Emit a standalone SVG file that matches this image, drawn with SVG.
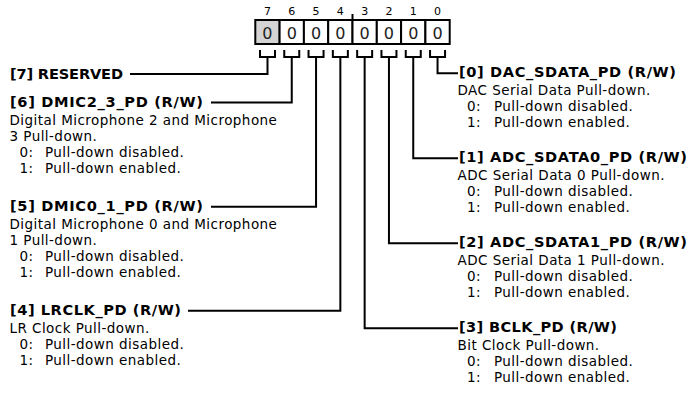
<svg xmlns="http://www.w3.org/2000/svg" width="691" height="398" viewBox="0 0 691 398">
<style>
text{font-family:"DejaVu Sans","Verdana",sans-serif;fill:#000}
.h{font-weight:bold;font-size:14.6px}
.d{font-size:13.5px;letter-spacing:0.45px}
.bn{font-size:11px;text-anchor:middle}
.bv{font-size:16px;text-anchor:middle;fill:#222}
.cell{fill:#fff;stroke:#000;stroke-width:2}
.res{fill:#d4d4d4}
.ln{fill:none;stroke:#000;stroke-width:2;stroke-linejoin:miter;stroke-linecap:butt}
</style>
<rect width="691" height="398" fill="#fff"/>
<g id="register">
<text class="bn" x="267.45" y="15">7</text>
<text class="bn" x="291.75" y="15">6</text>
<text class="bn" x="316.05" y="15">5</text>
<text class="bn" x="340.35" y="15">4</text>
<text class="bn" x="364.65" y="15">3</text>
<text class="bn" x="388.95" y="15">2</text>
<text class="bn" x="413.25" y="15">1</text>
<text class="bn" x="437.55" y="15">0</text>
<line class="ln" x1="352.5" y1="14" x2="352.5" y2="20"/>
<rect class="cell res" x="255.3" y="20" width="24.3" height="24"/>
<rect class="cell" x="279.6" y="20" width="24.3" height="24"/>
<rect class="cell" x="303.9" y="20" width="24.3" height="24"/>
<rect class="cell" x="328.2" y="20" width="24.3" height="24"/>
<rect class="cell" x="352.5" y="20" width="24.3" height="24"/>
<rect class="cell" x="376.8" y="20" width="24.3" height="24"/>
<rect class="cell" x="401.1" y="20" width="24.3" height="24"/>
<rect class="cell" x="425.4" y="20" width="24.3" height="24"/>
<text class="bv" x="267.45" y="39.3">0</text>
<text class="bv" x="291.75" y="39.3">0</text>
<text class="bv" x="316.05" y="39.3">0</text>
<text class="bv" x="340.35" y="39.3">0</text>
<text class="bv" x="364.65" y="39.3">0</text>
<text class="bv" x="388.95" y="39.3">0</text>
<text class="bv" x="413.25" y="39.3">0</text>
<text class="bv" x="437.55" y="39.3">0</text>
</g>
<g id="connectors">
<path class="ln" d="M260,50V57H275V50M267.5,57V74H130"/>
<path class="ln" d="M284.25,50V57H299.25V50M291.75,57V102.5H211"/>
<path class="ln" d="M308.55,50V57H323.55V50M316.05,57V206.7H211"/>
<path class="ln" d="M332.85,50V57H347.85V50M340.35,57V310.7H188"/>
<path class="ln" d="M357.15,50V57H372.15V50M364.65,57V328.3H458"/>
<path class="ln" d="M381.45,50V57H396.45V50M388.95,57V243.3H458"/>
<path class="ln" d="M405.75,50V57H420.75V50M413.25,57V158.3H458"/>
<path class="ln" d="M430.05,50V57H445.05V50M437.55,57V73.3H458"/>
</g>
<g id="f7">
<text class="h" x="10" y="79" textLength="113">[7] RESERVED</text>
</g>
<g id="f6">
<text class="h" x="10" y="106.5" textLength="193">[6] DMIC2_3_PD (R/W)</text>
<text class="d" x="9.5" y="124.5">Digital Microphone 2 and Microphone</text>
<text class="d" x="9.5" y="140.5">3 Pull-down.</text>
<text class="d"><tspan x="19.5" y="156.5">0:</tspan><tspan x="45" y="156.5">Pull-down disabled.</tspan></text>
<text class="d"><tspan x="19.5" y="172.5">1:</tspan><tspan x="45" y="172.5">Pull-down enabled.</tspan></text>
</g>
<g id="f5">
<text class="h" x="10" y="210.7" textLength="193">[5] DMIC0_1_PD (R/W)</text>
<text class="d" x="9.5" y="228.7">Digital Microphone 0 and Microphone</text>
<text class="d" x="9.5" y="244.7">1 Pull-down.</text>
<text class="d"><tspan x="19.5" y="260.7">0:</tspan><tspan x="45" y="260.7">Pull-down disabled.</tspan></text>
<text class="d"><tspan x="19.5" y="276.7">1:</tspan><tspan x="45" y="276.7">Pull-down enabled.</tspan></text>
</g>
<g id="f4">
<text class="h" x="10" y="314.7" textLength="171">[4] LRCLK_PD (R/W)</text>
<text class="d" x="9.5" y="332.7">LR Clock Pull-down.</text>
<text class="d"><tspan x="19.5" y="348.7">0:</tspan><tspan x="45" y="348.7">Pull-down disabled.</tspan></text>
<text class="d"><tspan x="19.5" y="364.7">1:</tspan><tspan x="45" y="364.7">Pull-down enabled.</tspan></text>
</g>
<g id="f0">
<text class="h" x="459" y="77.3" textLength="217">[0] DAC_SDATA_PD (R/W)</text>
<text class="d" x="457.5" y="95.3">DAC Serial Data Pull-down.</text>
<text class="d"><tspan x="467" y="111.3">0:</tspan><tspan x="494" y="111.3">Pull-down disabled.</tspan></text>
<text class="d"><tspan x="467" y="127.3">1:</tspan><tspan x="494" y="127.3">Pull-down enabled.</tspan></text>
</g>
<g id="f1">
<text class="h" x="459" y="162.3" textLength="228">[1] ADC_SDATA0_PD (R/W)</text>
<text class="d" x="457.5" y="180.3">ADC Serial Data 0 Pull-down.</text>
<text class="d"><tspan x="467" y="196.3">0:</tspan><tspan x="494" y="196.3">Pull-down disabled.</tspan></text>
<text class="d"><tspan x="467" y="212.3">1:</tspan><tspan x="494" y="212.3">Pull-down enabled.</tspan></text>
</g>
<g id="f2">
<text class="h" x="459" y="247.3" textLength="228">[2] ADC_SDATA1_PD (R/W)</text>
<text class="d" x="457.5" y="265.3">ADC Serial Data 1 Pull-down.</text>
<text class="d"><tspan x="467" y="281.3">0:</tspan><tspan x="494" y="281.3">Pull-down disabled.</tspan></text>
<text class="d"><tspan x="467" y="297.3">1:</tspan><tspan x="494" y="297.3">Pull-down enabled.</tspan></text>
</g>
<g id="f3">
<text class="h" x="459" y="332.3" textLength="158">[3] BCLK_PD (R/W)</text>
<text class="d" x="457.5" y="350.3">Bit Clock Pull-down.</text>
<text class="d"><tspan x="467" y="366.3">0:</tspan><tspan x="494" y="366.3">Pull-down disabled.</tspan></text>
<text class="d"><tspan x="467" y="382.3">1:</tspan><tspan x="494" y="382.3">Pull-down enabled.</tspan></text>
</g>
</svg>
